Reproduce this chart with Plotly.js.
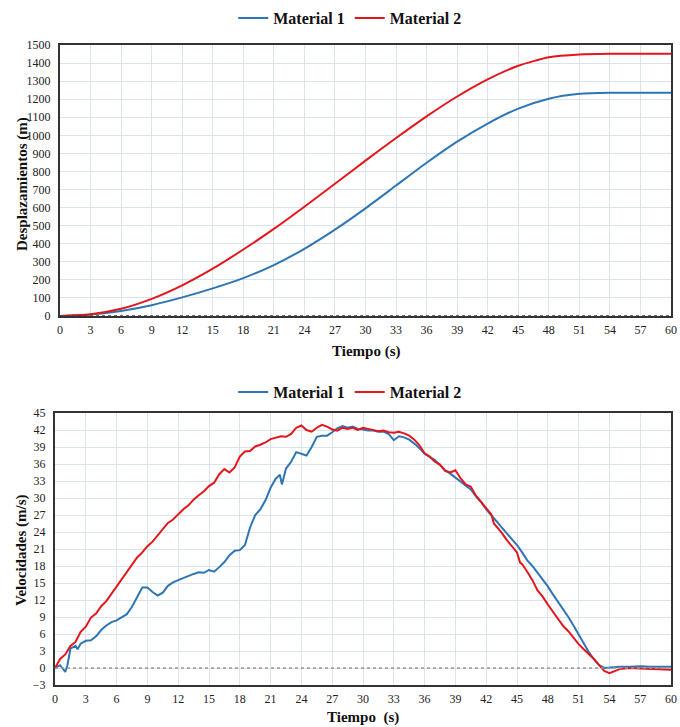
<!DOCTYPE html>
<html>
<head>
<meta charset="utf-8">
<script src="https://cdn.plot.ly/plotly-3.0.1.min.js"></script>
<style>html,body{margin:0;padding:0;background:#fff;}#chart{width:680px;height:727px;}</style>
</head>
<body>
<div id="chart"></div>
<script>
// ---- Data ----
const seriesNames = ["Material 1", "Material 2"];

// Desplazamientos (m) vs Tiempo (s)
const tDisp = [0,3,6,9,12,15,18,21,24,27,30,33,36,39,42,45,48,51,54,57,60];
const dispM1 = [0,8,28,60,103,153,210,282,372,478,596,722,848,965,1065,1148,1203,1230,1236,1236,1236];
const dispM2 = [0,10,40,95,170,262,368,482,605,732,860,985,1105,1215,1310,1385,1432,1448,1452,1452,1452];

// Velocidades (m/s) vs Tiempo (s)
const tVelM1 = [0,0.5,1.0,1.2,1.5,2.0,2.2,2.5,3.0,3.5,4.0,4.5,5.0,5.5,6.0,6.5,7.0,7.5,8.0,8.5,9.0,9.5,10.0,10.5,11.0,11.5,12.0,12.5,13.0,13.5,14.0,14.5,15.0,15.5,16.0,16.5,17.0,17.5,18.0,18.5,19.0,19.5,20.0,20.5,21.0,21.5,21.9,22.1,22.5,23.0,23.5,24.0,24.5,25.0,25.5,26.0,26.5,27.0,27.5,28.0,28.5,29.0,29.5,30.0,30.5,31.0,31.5,32.0,32.5,33.0,33.5,34.0,34.5,35.0,35.5,36.0,36.5,37.0,37.5,38.0,38.5,39.0,39.5,40.0,40.5,41.0,41.5,42.0,42.5,43.0,43.5,44.0,44.5,45.0,45.5,46.0,46.5,47.0,47.5,48.0,48.5,49.0,49.5,50.0,50.5,51.0,51.5,52.0,52.5,53.0,53.5,54.0,55,56,57,58,59,60];
const velM1 = [0,0.5,-0.7,0.4,3.4,3.9,3.3,4.3,4.8,4.9,5.6,6.7,7.5,8.1,8.4,8.9,9.5,10.8,12.5,14.2,14.2,13.4,12.8,13.3,14.5,15.1,15.5,15.9,16.3,16.6,16.9,16.8,17.3,17.0,17.8,18.7,19.9,20.7,20.8,21.7,24.8,27.0,28.0,29.6,31.8,33.4,34.1,32.4,35.2,36.4,38.1,37.8,37.5,39.0,40.8,41.0,41.0,41.6,42.3,42.7,42.4,42.6,42.2,42.1,41.9,41.9,41.7,41.7,41.3,40.2,40.9,40.7,40.3,39.6,38.8,37.8,37.2,36.7,35.8,34.9,34.3,33.6,32.9,32.2,31.5,30.3,29.3,28.0,27.0,25.9,24.8,23.8,22.8,21.7,20.4,19.0,18.0,16.8,15.7,14.4,13.0,11.7,10.4,9.0,7.5,5.9,4.2,2.8,1.5,0.5,0.0,0.1,0.2,0.2,0.3,0.2,0.2,0.2];

const tVelM2 = [0,0.5,1.0,1.5,2.0,2.5,3.0,3.5,4.0,4.5,5.0,5.5,6.0,6.5,7.0,7.5,8.0,8.5,9.0,9.5,10.0,10.5,11.0,11.5,12.0,12.5,13.0,13.5,14.0,14.5,15.0,15.5,16.0,16.5,17.0,17.5,18.0,18.5,19.0,19.5,20.0,20.5,21.0,21.5,22.0,22.5,23.0,23.5,24.0,24.5,25.0,25.5,26.0,26.5,27.0,27.5,28.0,28.5,29.0,29.5,30.0,30.5,31.0,31.5,32.0,32.5,33.0,33.5,34.0,34.5,35.0,35.5,36.0,36.5,37.0,37.5,38.0,38.5,39.0,39.5,40.0,40.5,41.0,41.5,42.0,42.5,42.75,43.0,43.5,44.0,44.5,45.0,45.3,45.5,46.0,46.5,47.0,47.5,48.0,48.5,49.0,49.5,50.0,50.5,51.0,51.5,52.0,52.5,53.0,53.5,54.0,54.5,55.0,55.5,56.0,57,58,59,60];
const velM2 = [0,1.6,2.4,3.9,4.6,6.4,7.3,8.9,9.6,10.9,11.8,13.1,14.4,15.7,17.0,18.1,19.5,20.4,21.5,22.3,23.4,24.5,25.6,26.2,27.1,28.0,28.7,29.7,30.5,31.2,32.1,32.7,34.2,35.1,34.5,35.4,37.3,38.2,38.3,39.1,39.4,39.8,40.4,40.6,40.9,40.8,41.3,42.4,42.8,42.0,41.7,42.4,42.9,42.6,42.1,41.9,42.4,42.2,42.4,42.0,42.4,42.2,42.0,41.8,41.9,41.6,41.5,41.7,41.4,41.0,40.3,39.3,37.9,37.3,36.4,35.9,34.8,34.5,34.9,33.5,32.4,32.0,30.4,29.3,28.1,27.1,25.5,25.0,23.9,22.6,21.5,20.4,18.6,18.3,17.0,15.5,13.7,12.6,11.2,10.0,8.6,7.4,6.5,5.3,4.2,3.3,2.5,1.6,0.5,-0.5,-0.9,-0.5,-0.2,-0.1,0.0,-0.1,-0.2,-0.2,-0.3];

const xTicks = [0,3,6,9,12,15,18,21,24,27,30,33,36,39,42,45,48,51,54,57,60];

// ---- Styling ----
const blue = "#2E75B6";
const red = "#E3161C";
const serif = "Liberation Serif, Times New Roman, serif";
const gridCol = "#DDE3EA";

const traces = [
  {x: tDisp, y: dispM1, name: seriesNames[0], type: "scatter", mode: "lines", line: {color: blue, width: 2, shape: "spline", smoothing: 0.6}, xaxis: "x", yaxis: "y", legend: "legend"},
  {x: tDisp, y: dispM2, name: seriesNames[1], type: "scatter", mode: "lines", line: {color: red, width: 2, shape: "spline", smoothing: 0.6}, xaxis: "x", yaxis: "y", legend: "legend"},
  {x: tVelM1, y: velM1, name: seriesNames[0], type: "scatter", mode: "lines", line: {color: blue, width: 2}, xaxis: "x2", yaxis: "y2", legend: "legend2"},
  {x: tVelM2, y: velM2, name: seriesNames[1], type: "scatter", mode: "lines", line: {color: red, width: 2}, xaxis: "x2", yaxis: "y2", legend: "legend2"}
];

const tickFont = {family: serif, size: 12, color: "#222"};
const titleFont = {family: serif, size: 15, color: "#111", weight: "bold"};

function xAxis(domain, anchor) {
  return {domain: domain, anchor: anchor, range: [0, 60], tickmode: "array", tickvals: xTicks,
    showgrid: true, gridcolor: gridCol, gridwidth: 1, zeroline: false,
    showline: true, mirror: true, linecolor: "#333", linewidth: 2,
    ticks: "", tickfont: tickFont, fixedrange: true, ticklabeloverflow: "allow", ticklabelstandoff: 2};
}
function yAxis(domain, anchor, range, dtick) {
  return {domain: domain, anchor: anchor, range: range, tick0: range[0], dtick: dtick,
    showgrid: true, gridcolor: gridCol, gridwidth: 1, zeroline: false,
    showline: true, mirror: true, linecolor: "#333", linewidth: 2,
    ticks: "", tickfont: tickFont, fixedrange: true, ticklabelstandoff: 5};
}

const W = 680, H = 727;
const legendFont = {family: serif, size: 16, color: "#111", weight: "bold"};
const layout = {
  width: W, height: H,
  margin: {l: 0, r: 0, t: 0, b: 0},
  paper_bgcolor: "#fff", plot_bgcolor: "#fff",
  showlegend: true,
  xaxis: xAxis([60/W, 671/W], "y"),
  yaxis: yAxis([1-316/H, 1-45/H], "x", [0, 1500], 100),
  xaxis2: xAxis([55/W, 671/W], "y2"),
  yaxis2: yAxis([1-685/H, 1-413/H], "x2", [-3, 45], 3),
  legend: {orientation: "h", x: 0.515, xanchor: "center", y: 1-18/H, yanchor: "middle",
    font: legendFont, itemwidth: 30, bgcolor: "rgba(0,0,0,0)"},
  legend2: {orientation: "h", x: 0.515, xanchor: "center", y: 1-392/H, yanchor: "middle",
    font: legendFont, itemwidth: 30, bgcolor: "rgba(0,0,0,0)"},
  shapes: [
    {type: "line", xref: "x", yref: "y", x0: 0, x1: 60, y0: 0, y1: 0, line: {color: "#444", width: 1.5, dash: "dot"}},
    {type: "line", xref: "x2", yref: "y2", x0: 0, x1: 60, y0: 0, y1: 0, line: {color: "#999", width: 1.5, dash: "dot"}}
  ],
  annotations: [
    {text: "Desplazamientos (m)", textangle: -90, xref: "paper", yref: "paper", x: 22/W, y: 1-184/H, showarrow: false, font: titleFont, xanchor: "center", yanchor: "middle"},
    {text: "Tiempo (s)", xref: "paper", yref: "paper", x: 366/W, y: 1-351/H, showarrow: false, font: titleFont, xanchor: "center", yanchor: "middle"},
    {text: "Velocidades (m/s)", textangle: -90, xref: "paper", yref: "paper", x: 21/W, y: 1-550/H, showarrow: false, font: titleFont, xanchor: "center", yanchor: "middle"},
    {text: "Tiempo  (s)", xref: "paper", yref: "paper", x: 363/W, y: 1-717/H, showarrow: false, font: titleFont, xanchor: "center", yanchor: "middle"}
  ]
};

Plotly.newPlot("chart", traces, layout, {displayModeBar: false, staticPlot: true});
</script>
</body>
</html>
